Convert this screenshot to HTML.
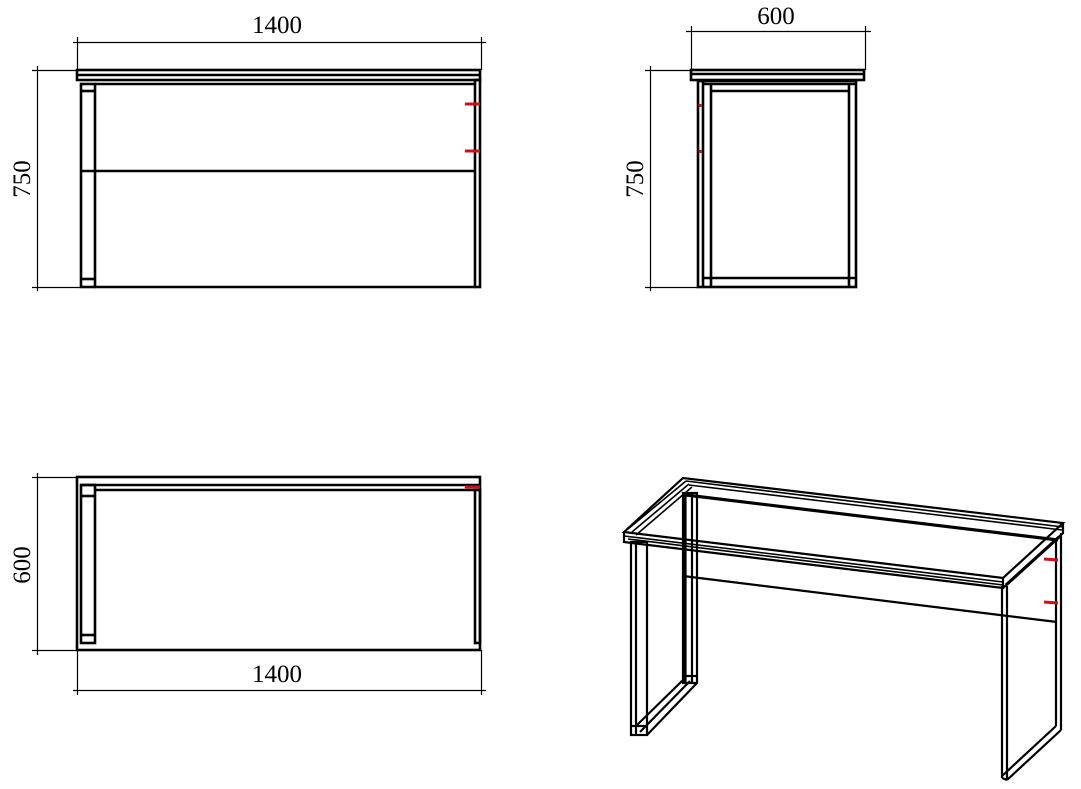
<!DOCTYPE html>
<html><head><meta charset="utf-8"><style>
html,body{margin:0;padding:0;background:#fff;}
svg{display:block}
text{font-family:"Liberation Serif",serif;font-size:25px;fill:#000}
</style></head><body>
<svg width="1081" height="789" viewBox="0 0 1081 789" xmlns="http://www.w3.org/2000/svg">
<g fill="none" stroke="#000" stroke-width="1.2">
<line x1="73" y1="42.5" x2="486" y2="42.5"/>
<line x1="77.5" y1="37" x2="77.5" y2="70"/>
<line x1="481.5" y1="37" x2="481.5" y2="70"/>
<line x1="37.5" y1="66" x2="37.5" y2="291"/>
<line x1="32" y1="70.5" x2="77" y2="70.5"/>
<line x1="32" y1="287.5" x2="80" y2="287.5"/>
<line x1="686" y1="31.5" x2="871" y2="31.5"/>
<line x1="691.5" y1="26" x2="691.5" y2="70"/>
<line x1="865.5" y1="26" x2="865.5" y2="70"/>
<line x1="650.5" y1="66" x2="650.5" y2="291"/>
<line x1="645" y1="70.5" x2="691" y2="70.5"/>
<line x1="645" y1="287.5" x2="698" y2="287.5"/>
<line x1="37.5" y1="473" x2="37.5" y2="655"/>
<line x1="32" y1="477.5" x2="77" y2="477.5"/>
<line x1="32" y1="650.5" x2="77" y2="650.5"/>
<line x1="73" y1="690.5" x2="486" y2="690.5"/>
<line x1="77.5" y1="650" x2="77.5" y2="695"/>
<line x1="481.5" y1="650" x2="481.5" y2="695"/>
</g>
<g fill="none" stroke="#000" stroke-width="2.6">
<rect x="77" y="70" width="403" height="10"/>
<line x1="77" y1="75" x2="480" y2="75"/>
<rect x="81" y="84" width="14" height="203"/>
<line x1="81" y1="91" x2="95" y2="91"/>
<line x1="81" y1="279" x2="95" y2="279"/>
<line x1="95" y1="84" x2="475" y2="84"/>
<line x1="81" y1="171" x2="475" y2="171"/>
<line x1="95" y1="287" x2="475" y2="287"/>
<rect x="475" y="80" width="5" height="207"/>
<rect x="691" y="70" width="173" height="10"/>
<line x1="691" y1="74" x2="864" y2="74"/>
<rect x="698" y="81" width="158" height="206"/>
<line x1="703" y1="81" x2="703" y2="287"/>
<line x1="711" y1="84" x2="711" y2="287"/>
<line x1="849" y1="84" x2="849" y2="287"/>
<line x1="703" y1="84" x2="856" y2="84"/>
<line x1="711" y1="91" x2="849" y2="91"/>
<line x1="703" y1="278" x2="856" y2="278"/>
<rect x="77" y="477" width="403" height="173"/>
<line x1="81" y1="485" x2="480" y2="485"/>
<line x1="95" y1="490" x2="475" y2="490"/>
<rect x="81" y="485" width="14" height="158"/>
<line x1="81" y1="496" x2="95" y2="496"/>
<line x1="81" y1="635" x2="95" y2="635"/>
<rect x="475" y="490" width="5" height="153"/>
</g>
<g fill="none" stroke="#000" stroke-width="2.2">
<polygon points="624,532 683,478 1063,523 1003,578"/>
<polyline points="624,532 624,542 1003,588 1003,578"/>
<line x1="624" y1="536" x2="1003" y2="582" stroke-width="1.6"/>
<line x1="628" y1="539" x2="1003" y2="585" stroke-width="1.6"/>
<polyline points="1003,588 1063,533 1063,523" />
<line x1="628" y1="529" x2="686" y2="481" stroke-width="1.6"/>
<line x1="632" y1="532" x2="689" y2="484" stroke-width="1.6"/>
<line x1="636" y1="535" x2="692" y2="487" stroke-width="1.6"/>
<line x1="686" y1="481" x2="1063" y2="527" stroke-width="1.6"/>
<line x1="689" y1="485" x2="1062" y2="530" stroke-width="1.6"/>
<line x1="686" y1="495" x2="1058" y2="540" stroke-width="3.2"/>
<line x1="683" y1="576" x2="1057" y2="622"/>
<rect x="683" y="493" width="14" height="190"/>
<line x1="685" y1="493" x2="685" y2="683" stroke-width="3.2"/>
<line x1="692" y1="493" x2="692" y2="683"/>
<line x1="683" y1="676" x2="697" y2="676"/>
<rect x="631" y="542" width="16" height="193"/>
<line x1="636" y1="542" x2="636" y2="735"/>
<line x1="631" y1="726" x2="647" y2="726"/>
<line x1="647" y1="735" x2="697" y2="683"/>
<line x1="640" y1="732" x2="690" y2="681"/>
<line x1="636" y1="726" x2="683" y2="680"/>
<line x1="1002" y1="586" x2="1002" y2="778"/>
<line x1="1007" y1="586" x2="1007" y2="780"/>
<line x1="1002" y1="778" x2="1007" y2="780"/>
<line x1="1007" y1="780" x2="1061" y2="730"/>
<line x1="1002" y1="776" x2="1056" y2="726"/>
<line x1="1056" y1="540" x2="1056" y2="726"/>
<line x1="1061" y1="533" x2="1061" y2="730"/>
<line x1="1006" y1="585" x2="1059" y2="537" stroke-width="3.2"/>
</g>
<g stroke="#d01010" stroke-width="3">
<line x1="465" y1="104" x2="480" y2="104"/>
<line x1="465" y1="151" x2="480" y2="151"/>
<line x1="465" y1="487" x2="480" y2="487"/>
<line x1="1044" y1="559" x2="1058" y2="560"/>
<line x1="1044" y1="602" x2="1058" y2="603"/>
<line x1="700" y1="104" x2="700" y2="107"/>
<line x1="700" y1="150" x2="700" y2="153"/>
</g>
<text x="277" y="33" text-anchor="middle">1400</text>
<text x="776" y="24" text-anchor="middle">600</text>
<text x="277" y="682" text-anchor="middle">1400</text>
<text transform="translate(30,179) rotate(-90)" text-anchor="middle">750</text>
<text transform="translate(643,179) rotate(-90)" text-anchor="middle">750</text>
<text transform="translate(30,565) rotate(-90)" text-anchor="middle">600</text>
</svg>
</body></html>
